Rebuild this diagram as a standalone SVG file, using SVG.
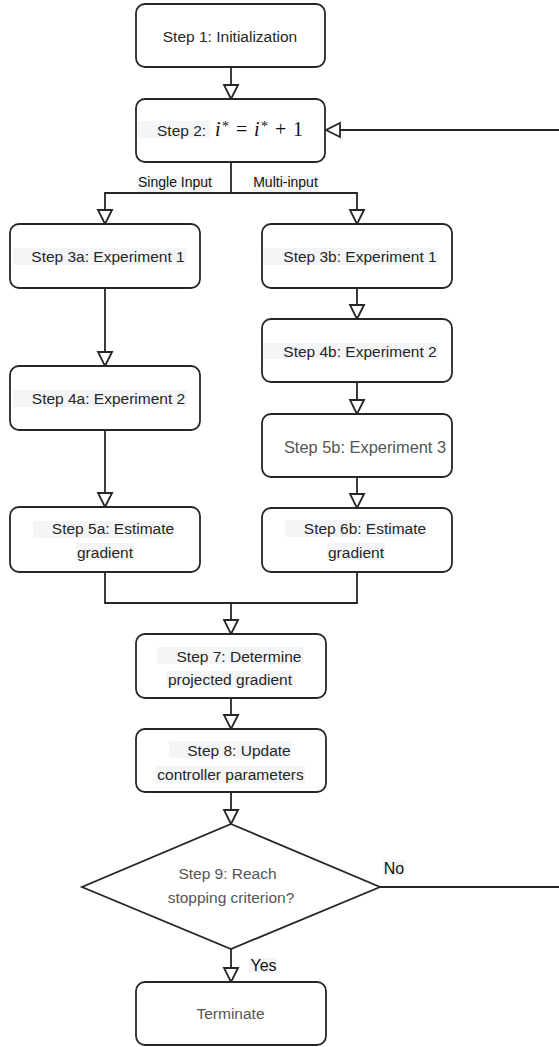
<svg xmlns="http://www.w3.org/2000/svg" width="559" height="1047" viewBox="0 0 559 1047">
<style>
.box{fill:#fff;stroke:#262626;stroke-width:1.8}
.t{font-family:"Liberation Sans",Arial,sans-serif;font-size:15.5px;fill:#262626;text-anchor:middle}
.ts{font-family:"Liberation Sans",Arial,sans-serif;font-size:15.5px;fill:#262626}
.tl{fill:#555}
.lab{font-family:"Liberation Sans",Arial,sans-serif;font-size:14px;fill:#111}
.yn{font-family:"Liberation Sans",Arial,sans-serif;font-size:16px;fill:#111}
.hl{fill:#f4f5f6}
.math{font-family:"Liberation Serif","Times New Roman",serif;font-size:20px;fill:#111}
.c{fill:none;stroke:#262626;stroke-width:1.8}
</style>
<defs>
<marker id="arr" markerUnits="userSpaceOnUse" viewBox="-2 -2 18 18" markerWidth="18" markerHeight="18" refX="13" refY="7" orient="auto">
<path d="M0,0 L14,7 L0,14 Z" fill="#fff" stroke="#262626" stroke-width="1.8"/>
</marker>
</defs>
<rect width="559" height="1047" fill="#fff"/>
<g id="connectors">
<path class="c" d="M231 67 V98" marker-end="url(#arr)"/>
<path class="c" d="M231 162 V193 H105 V223" marker-end="url(#arr)"/>
<path class="c" d="M231 193 H357 V223" marker-end="url(#arr)"/>
<path class="c" d="M105 288 V365" marker-end="url(#arr)"/>
<path class="c" d="M105 430 V506" marker-end="url(#arr)"/>
<path class="c" d="M357 288 V318" marker-end="url(#arr)"/>
<path class="c" d="M357 382 V413" marker-end="url(#arr)"/>
<path class="c" d="M357 477 V507" marker-end="url(#arr)"/>
<path class="c" d="M105 572 V603 H357 V572"/>
<path class="c" d="M231 603 V633" marker-end="url(#arr)"/>
<path class="c" d="M231 698 V728" marker-end="url(#arr)"/>
<path class="c" d="M231 792 V823" marker-end="url(#arr)"/>
<path class="c" d="M231 949 V981" marker-end="url(#arr)"/>
<path class="c" d="M380 887 H563 V130 H327" marker-end="url(#arr)"/>
<rect class="hl" x="137" y="176" width="76" height="16"/>
<text class="lab" x="175" y="187" text-anchor="middle">Single Input</text>
<rect class="hl" x="252" y="176" width="67" height="16"/>
<text class="lab" x="285.5" y="187" text-anchor="middle">Multi-input</text>
<rect class="hl" x="383" y="860" width="22" height="16"/>
<text class="yn" x="394" y="874" text-anchor="middle">No</text>
<rect class="hl" x="249" y="958" width="28" height="15"/>
<text class="yn" x="263.5" y="971" text-anchor="middle">Yes</text>
</g>
<g id="step1">
<rect class="box" x="136" y="4" width="189" height="63" rx="9"/>
<text class="t" x="230" y="41.5">Step 1: Initialization</text>
</g>
<g id="step2">
<rect class="box" x="136" y="99" width="189" height="63" rx="9"/>
<rect class="hl" x="138" y="121" width="72" height="17"/>
<text class="ts" x="157" y="135.5">Step 2:</text>
<text class="math" y="136"><tspan x="215" font-style="italic">i</tspan><tspan x="222" y="131" font-size="14">*</tspan><tspan x="236" y="136">=</tspan><tspan x="254" font-style="italic">i</tspan><tspan x="261" y="131" font-size="14">*</tspan><tspan x="275" y="136">+</tspan><tspan x="293">1</tspan></text>
</g>
<g id="step3a">
<rect class="box" x="10" y="224" width="190" height="64" rx="9"/>
<rect class="hl" x="13" y="248" width="174" height="17"/>
<text class="t" x="108" y="262">Step 3a: Experiment 1</text>
</g>
<g id="step4a">
<rect class="box" x="10" y="366" width="190" height="64" rx="9"/>
<rect class="hl" x="13" y="390" width="174" height="17"/>
<text class="t" x="108.5" y="404">Step 4a: Experiment 2</text>
</g>
<g id="step5a">
<rect class="box" x="10" y="507" width="190" height="65" rx="9"/>
<rect class="hl" x="33" y="521" width="142" height="17"/>
<rect class="hl" x="76" y="543" width="58" height="17"/>
<text class="t" x="113" y="534">Step 5a: Estimate</text>
<text class="t" x="105" y="558">gradient</text>
</g>
<g id="step3b">
<rect class="box" x="262" y="224" width="190" height="64" rx="9"/>
<rect class="hl" x="263" y="248" width="175" height="17"/>
<text class="t" x="360" y="262">Step 3b: Experiment 1</text>
</g>
<g id="step4b">
<rect class="box" x="262" y="319" width="190" height="63" rx="9"/>
<rect class="hl" x="263" y="343" width="175" height="16"/>
<text class="t" x="360" y="357">Step 4b: Experiment 2</text>
</g>
<g id="step5b">
<rect class="box" x="262" y="414" width="190" height="63" rx="9"/>
<text class="t tl" x="365" y="452.5" style="font-size:16.4px">Step 5b: Experiment 3</text>
</g>
<g id="step6b">
<rect class="box" x="262" y="508" width="190" height="64" rx="9"/>
<rect class="hl" x="285" y="520" width="142" height="17"/>
<rect class="hl" x="327" y="543" width="58" height="17"/>
<text class="t" x="365" y="533.5">Step 6b: Estimate</text>
<text class="t" x="356" y="558">gradient</text>
</g>
<g id="step7">
<rect class="box" x="136" y="634" width="190" height="64" rx="9"/>
<rect class="hl" x="157" y="647" width="146" height="17"/>
<rect class="hl" x="166" y="671" width="128" height="16"/>
<text class="t" x="239" y="661.5">Step 7: Determine</text>
<text class="t" x="230" y="684.5">projected gradient</text>
</g>
<g id="step8">
<rect class="box" x="136" y="729" width="190" height="63" rx="9"/>
<rect class="hl" x="169" y="741" width="122" height="17"/>
<rect class="hl" x="156" y="766" width="149" height="17"/>
<text class="t" x="239" y="755.5">Step 8: Update</text>
<text class="t" x="230.5" y="779.5">controller parameters</text>
</g>
<g id="step9">
<polygon class="box" points="231,824 380,887 231,949 82,887"/>
<text class="t tl" x="227.5" y="878.5">Step 9: Reach</text>
<text class="t tl" x="231" y="902.5">stopping criterion?</text>
</g>
<g id="terminate">
<rect class="box" x="136" y="982" width="190" height="63" rx="9"/>
<text class="t tl" x="230.5" y="1018.5">Terminate</text>
</g>
</svg>
